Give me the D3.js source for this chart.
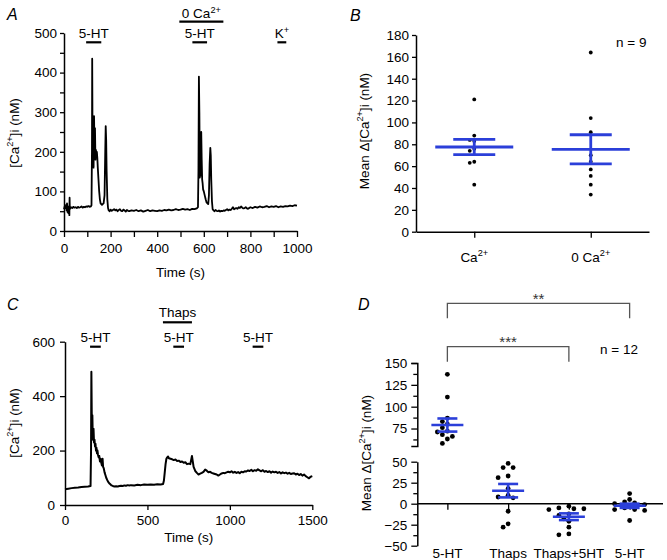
<!DOCTYPE html>
<html><head><meta charset="utf-8">
<script src="https://cdn.jsdelivr.net/npm/d3@7"></script>
<style>
body{margin:0;background:#fff}
text{font-family:"Liberation Sans",Arial,Helvetica,sans-serif}
</style>
</head><body>
<svg id="c" width="667" height="560"></svg>
<script>
// ---------- DATA ----------
// Panel A trace
const traceA_t = [0,3,6,9,11,13,15,17,19,21,23,24,25,27,30,35,40,45,50,55,60,65,70,75,80,85,90,95,100,105,110,115,118,120,121,122,123,125,127,129,131,133,135,137,139,141,143,145,148,151,154,157,160,163,166,170,174,177,179,181,183,186,189,192,196,200,205,210,215,220,225,230,235,240,245,250,255,260,265,270,275,280,290,300,310,320,330,340,350,360,370,380,390,400,410,420,430,440,450,460,470,480,490,500,510,520,530,540,550,560,570,575,577,579,581,583,585,587,589,591,593,595,597,600,604,608,612,616,619,622,625,628,630,632,635,638,642,646,650,655,660,665,670,675,680,685,690,695,700,705,710,715,720,725,730,735,740,745,750,755,760,765,770,775,780,785,790,795,800,810,820,830,840,850,860,870,880,890,900,910,920,930,940,950,960,970,980,990,1000];
const traceA_v = [55,62,58,66,52,70,48,62,45,60,40,84,55,58,60,58,61,59,60,58,61,59,60,62,59,61,60,62,61,63,61,62,65,200,435,300,165,220,160,290,200,260,180,205,190,200,185,160,130,100,80,70,68,66,68,70,90,200,265,230,150,80,58,52,50,54,51,53,55,52,54,50,53,55,51,50,54,52,49,53,51,50,52,51,53,50,52,49,51,53,50,52,51,50,52,51,53,52,54,52,53,55,53,54,56,54,55,53,56,55,57,60,150,390,300,135,180,140,250,180,130,120,105,100,90,80,72,70,68,90,170,210,190,130,75,55,52,50,53,51,50,52,49,51,50,52,51,53,55,52,54,53,56,60,55,57,58,56,60,58,62,59,57,58,60,57,56,58,60,58,61,59,62,60,61,63,60,62,61,63,60,62,61,63,62,64,63,65,64];
const annA_labels = ["5-HT","5-HT","K+"];
const annA_start = [95,551,916];
const annA_end = [160,614,954];
const annA_top_label = "0 Ca2+";
const annA_top = [495,684];
const xTicksA = [0,100,200,300,400,500,600,700,800,900,1000];
const yTicksA = [0,50,100,150,200,250,300,350,400,450,500];

// Panel B
const catsB = ["Ca2+","0 Ca2+"];
const dotsB_Ca = [121,88,84,83,76,74,64,63,43];
const dotsB_0Ca = [164,104,91,70,64,57,51,43,34];
const meanB = [77.5,75.4];
const semB = [7,13.3];
const yTicksB = [0,20,40,60,80,100,120,140,160,180];

// Panel C trace
const traceC_t = [0,20,40,60,80,100,120,140,155,158,160,162,164,166,168,170,173,176,179,182,185,188,191,194,197,200,204,208,212,216,220,224,228,231,235,240,245,250,256,262,268,275,282,290,300,310,320,330,340,350,360,370,380,390,400,420,440,460,480,500,520,540,560,580,595,600,605,610,615,620,625,630,640,650,660,670,680,690,700,710,720,730,740,750,760,765,770,775,780,790,800,810,820,830,840,850,860,870,880,890,900,910,920,930,940,950,960,970,980,990,1000,1010,1020,1030,1040,1050,1060,1070,1080,1090,1100,1110,1120,1130,1140,1150,1160,1170,1180,1190,1200,1210,1220,1230,1240,1250,1260,1270,1280,1290,1300,1310,1320,1330,1340,1350,1360,1370,1380,1390,1400,1410,1420,1430,1440,1450,1460,1470,1480,1490,1500];
const traceC_v = [58,60,62,63,64,66,67,68,70,200,490,350,240,330,260,250,280,230,240,215,225,200,210,190,200,185,175,180,160,170,155,145,170,140,135,120,110,100,92,85,80,76,72,70,68,69,68,70,71,70,72,71,73,72,73,72,74,73,75,74,75,74,76,75,77,90,120,150,170,175,178,172,170,168,165,167,162,163,158,160,155,157,150,152,150,165,180,160,140,125,118,112,115,118,122,130,126,120,122,118,116,114,112,108,112,116,118,117,120,122,120,124,119,122,118,121,117,122,120,124,123,127,125,129,124,128,126,131,127,124,128,122,125,121,124,119,123,120,122,118,121,116,120,117,119,115,118,114,116,117,112,115,110,114,108,112,106,102,98,104,106];
const annC_labels = ["5-HT","5-HT","5-HT"];
const annC_start = [152,657,1138];
const annC_end = [217,722,1203];
const annC_top_label = "Thaps";
const annC_top = [594,770];
const xTicksC = [0,500,1000,1500];
const yTicksC = [0,200,400,600];

// Panel D
const catsD = ["5-HT","Thaps","Thaps+5HT","5-HT "];
const dotsD = [
  [137,111,87,83,80,76,72,71,68,66,63,58],
  [48,43,43,33,31,18,10,8,7,-9,-24,-28],
  [-3,-5,-6,-6,-7,-12,-14,-18,-21,-28,-36,-37],
  [12,5,2,1,0,-1,-2,-5,-7,-7,-8,-20]
];
const meanD = [79,15.5,-15.5,-2.5];
const semD = [7.5,8,4,2.5];
const yTicksD_up = [62.5,75,87.5,100,112.5,125,137.5,150];
const yTicksD_low = [-50,-37.5,-25,-12.5,0,12.5,25,37.5,50];
const sigD = [{a:0,b:3,label:"**"},{a:0,b:2,label:"***"}];

// ---------- DRAWING ----------
const svg = d3.select("#c");
const FS = 13.5;
const BLUE = "#2b3fd9";

function styleAxis(g){
  g.select(".domain").attr("stroke","#000").attr("stroke-width",1.5);
  g.selectAll(".tick line").attr("stroke","#000").attr("stroke-width",1.3);
  g.selectAll(".tick text").attr("font-size",FS).attr("fill","#000")
    .attr("font-family","Liberation Sans, Arial, sans-serif");
}
function richText(sel, str, fs){
  sel.text(null);
  const re = /(2\+|\+)/g;
  let last = 0, m;
  let sup = false;
  const parts = [];
  while((m = re.exec(str))){
    if(m.index>last) parts.push([str.slice(last,m.index),false]);
    parts.push([m[0],true]);
    last = m.index+m[0].length;
  }
  if(last<str.length) parts.push([str.slice(last),false]);
  parts.forEach(([t,s])=>{
    const ts = sel.append("tspan").text(t);
    if(s){ ts.attr("font-size",fs*0.68).attr("dy",-fs*0.42); sup=true; }
    else if(sup){ ts.attr("dy",fs*0.42); sup=false; }
  });
  return sel;
}
function panelLetter(x,y,l){
  svg.append("text").attr("x",x).attr("y",y).attr("font-size",16).attr("font-style","italic").text(l);
}
function yTitle(x,y,str,fs){
  const t = svg.append("text").attr("transform",`translate(${x},${y}) rotate(-90)`)
    .attr("text-anchor","middle").attr("font-size",fs);
  richText(t,str,fs);
}
function stimBars(xs, starts, ends, labels, yBar, yText){
  starts.forEach((s,i)=>{
    svg.append("line").attr("x1",xs(s)).attr("x2",xs(ends[i])).attr("y1",yBar).attr("y2",yBar)
      .attr("stroke","#000").attr("stroke-width",2.2);
    if(labels){
      const t = svg.append("text").attr("x",(xs(s)+xs(ends[i]))/2).attr("y",yText)
        .attr("text-anchor","middle").attr("font-size",FS);
      richText(t,labels[i],FS);
    }
  });
}

// ----- Panel A -----
{
  const x = d3.scaleLinear([0,1000],[64,297]);
  const y = d3.scaleLinear([0,500],[231,33]);
  const gx = svg.append("g").attr("transform","translate(0,231)")
    .call(d3.axisBottom(x).tickValues(xTicksA).tickFormat(d=>d%200===0?d:"").tickSize(6).tickSizeOuter(0).tickPadding(6));
  styleAxis(gx);
  const gy = svg.append("g").attr("transform","translate(64,0)")
    .call(d3.axisLeft(y).tickValues(yTicksA).tickFormat(d=>d%100===0?d:"").tickSize(4).tickSizeOuter(0).tickPadding(3));
  styleAxis(gy);
  svg.append("path").datum(traceA_t.map((t,i)=>[t,traceA_v[i]]))
    .attr("d",d3.line().x(d=>x(d[0])).y(d=>y(d[1])))
    .attr("fill","none").attr("stroke","#000").attr("stroke-width",1.8).attr("stroke-linejoin","round");
  stimBars(x,annA_start,annA_end,annA_labels,42.3,38.3);
  stimBars(x,[annA_top[0]],[annA_top[1]],[annA_top_label],21.7,18.3);
  svg.append("text").attr("x",(64+297)/2).attr("y",277).attr("text-anchor","middle").attr("font-size",FS).text("Time (s)");
  yTitle(19,133,"[Ca2+]i (nM)",13.5);
  panelLetter(7,20,"A");
}

// ----- Panel B -----
function swarm(values, yf, cx, r, step){
  const pts = values.map(v=>({v,y:yf(v)})).sort((a,b)=>a.y-b.y);
  const placed=[];
  pts.forEach(p=>{
    for(let k=0;k<30;k++){
      const off = k===0?0:(k%2?-Math.ceil(k/2):Math.ceil(k/2))*step;
      const xx = cx+off;
      if(placed.every(q=>Math.hypot(q.x-xx,q.y-p.y)>=2*r+0.6)){p.x=xx;placed.push(p);break;}
    }
  });
  return pts;
}
function meanSem(cx, yf, m, s, hw, cw, sw){
  const g = svg.append("g").attr("stroke",BLUE).attr("stroke-width",sw);
  g.append("line").attr("x1",cx-hw).attr("x2",cx+hw).attr("y1",yf(m)).attr("y2",yf(m));
  g.append("line").attr("x1",cx-cw).attr("x2",cx+cw).attr("y1",yf(m+s)).attr("y2",yf(m+s));
  g.append("line").attr("x1",cx-cw).attr("x2",cx+cw).attr("y1",yf(m-s)).attr("y2",yf(m-s));
  g.append("line").attr("x1",cx).attr("x2",cx).attr("y1",yf(m+s)).attr("y2",yf(m-s));
}
{
  const y = d3.scaleLinear([0,180],[231.7,35]);
  const x = d3.scalePoint(catsB,[416,649]).padding(0.5);
  const gy = svg.append("g").attr("transform","translate(416,0)")
    .call(d3.axisLeft(y).tickValues(yTicksB).tickSize(4).tickSizeOuter(0).tickPadding(3));
  styleAxis(gy);
  const gx = svg.append("g").attr("transform","translate(0,231.7)")
    .call(d3.axisBottom(x).tickSize(6).tickSizeOuter(0).tickFormat(""));
  styleAxis(gx);
  catsB.forEach(c=>{
    const t = svg.append("text").attr("x",x(c)).attr("y",261.5).attr("text-anchor","middle").attr("font-size",FS);
    richText(t,c,FS);
  });
  [dotsB_Ca,dotsB_0Ca].forEach((vals,i)=>{
    const pts = swarm(vals,y,x(catsB[i]),1.9,4.5);
    svg.append("g").selectAll("circle").data(pts).join("circle")
      .attr("cx",d=>d.x).attr("cy",d=>d.y).attr("r",1.9).attr("fill","#000");
  });
  catsB.forEach((c,i)=>meanSem(x(c),y,meanB[i],semB[i],39,21,2.8));
  svg.append("text").attr("x",616).attr("y",47.3).attr("font-size",13.5).text("n = 9");
  yTitle(369,131,"Mean Δ[Ca2+]i (nM)",13.5);
  panelLetter(350,20.7,"B");
}

// ----- Panel C -----
{
  const x = d3.scaleLinear([0,1500],[65,312.3]);
  const y = d3.scaleLinear([0,600],[505,341.7]);
  const gx = svg.append("g").attr("transform","translate(0,505)")
    .call(d3.axisBottom(x).tickValues(xTicksC).tickFormat(d3.format("d")).tickSize(5).tickSizeOuter(0).tickPadding(5));
  styleAxis(gx);
  const gy = svg.append("g").attr("transform","translate(65,0)")
    .call(d3.axisLeft(y).tickValues(yTicksC).tickFormat(d3.format("d")).tickSize(5).tickSizeOuter(0).tickPadding(5));
  styleAxis(gy);
  svg.append("path").datum(traceC_t.map((t,i)=>[t,traceC_v[i]]))
    .attr("d",d3.line().x(d=>x(d[0])).y(d=>y(d[1])))
    .attr("fill","none").attr("stroke","#000").attr("stroke-width",2).attr("stroke-linejoin","round");
  stimBars(x,annC_start,annC_end,annC_labels,346.7,341.7);
  stimBars(x,[annC_top[0]],[annC_top[1]],[annC_top_label],322.3,317.3);
  svg.append("text").attr("x",(65+312.3)/2).attr("y",541.5).attr("text-anchor","middle").attr("font-size",FS).text("Time (s)");
  yTitle(19,423,"[Ca2+]i (nM)",13.5);
  panelLetter(7,310,"C");
}

// ----- Panel D -----
{
  const yUp = d3.scaleLinear([55,150],[446,363]);
  const yLow = d3.scaleLinear([-50,50],[545.7,461.7]);
  const yf = v=> v>=55 ? yUp(v) : yLow(v);
  const x = d3.scalePoint(catsD,[417,660]).padding(0.5);
  const fmt = d=> (d%25===0 ? d3.format("d")(d) : "");
  const gu = svg.append("g").attr("transform","translate(417.3,0)")
    .call(d3.axisLeft(yUp).tickValues(yTicksD_up).tickFormat(fmt).tickSize(6).tickSizeOuter(6).tickPadding(4));
  styleAxis(gu);
  const gl = svg.append("g").attr("transform","translate(417.3,0)")
    .call(d3.axisLeft(yLow).tickValues(yTicksD_low).tickFormat(fmt).tickSize(6).tickSizeOuter(0).tickPadding(4));
  styleAxis(gl);
  [gu,gl].forEach(g=>g.selectAll(".tick").filter(d=>d%25!==0).select("line").attr("x2",-4));
  const gx = svg.append("g").attr("transform",`translate(0,${yLow(0)})`)
    .call(d3.axisBottom(x).tickSize(6).tickSizeOuter(0).tickFormat(""));
  styleAxis(gx);
  gx.select(".domain").attr("d",`M417.3,0H663`);
  catsD.forEach(c=>{
    svg.append("text").attr("x",x(c)).attr("y",558).attr("text-anchor","middle").attr("font-size",FS).text(c.trim());
  });
  dotsD.forEach((vals,i)=>{
    const pts = swarm(vals,yf,x(catsD[i]),2.4,5);
    svg.append("g").selectAll("circle").data(pts).join("circle")
      .attr("cx",d=>d.x).attr("cy",d=>d.y).attr("r",2.4).attr("fill","#000");
  });
  catsD.forEach((c,i)=>meanSem(x(c),yf,meanD[i],semD[i],16,10,2.6));
  const bracketY = [303.3,346.7];
  sigD.forEach((s,i)=>{
    const yb = bracketY[i];
    const x1 = x(catsD[s.a]), x2 = x(catsD[s.b]);
    svg.append("path").attr("d",`M${x1},${yb+15}V${yb}H${x2}V${yb+15}`)
      .attr("fill","none").attr("stroke","#555").attr("stroke-width",1.3);
    svg.append("text").attr("x",(x1+x2)/2).attr("y",yb+0.5).attr("text-anchor","middle")
      .attr("font-size",15).attr("fill","#333").text(s.label);
  });
  svg.append("text").attr("x",600).attr("y",354).attr("font-size",13.5).text("n = 12");
  yTitle(371,453,"Mean Δ[Ca2+]i (nM)",13.5);
  panelLetter(358,310,"D");
}
</script>
</body></html>
